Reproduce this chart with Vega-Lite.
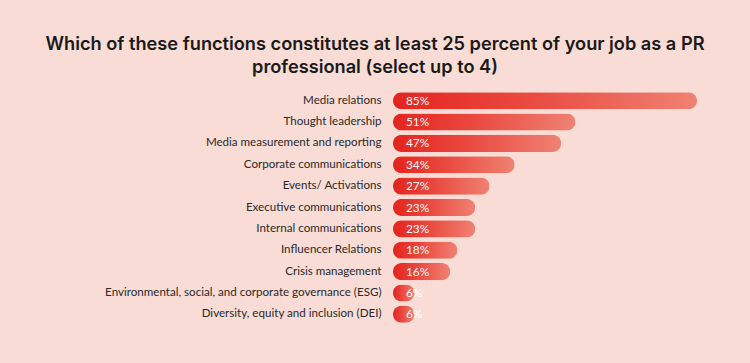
{
  "$schema": "https://vega.github.io/schema/vega-lite/v6.json",
  "autosize": "none",
  "width": 304,
  "height": 235,
  "padding": {"left": 393, "top": 90, "right": 53, "bottom": 38},
  "background": "#f9dcd5",
  "title": {
    "text": ["Which of these functions constitutes at least 25 percent of your job as a PR", "professional (select up to 4)"],
    "anchor": "middle",
    "dx": -170,
    "offset": 13,
    "font": "Inter",
    "fontSize": 18.2,
    "fontWeight": 600,
    "lineHeight": 23,
    "color": "#1a1a1a"
  },
  "data": {
    "values": [
      {"function": "Media relations", "pct": 85},
      {"function": "Thought leadership", "pct": 51},
      {"function": "Media measurement and reporting", "pct": 47},
      {"function": "Corporate communications", "pct": 34},
      {"function": "Events/ Activations", "pct": 27},
      {"function": "Executive communications", "pct": 23},
      {"function": "Internal communications", "pct": 23},
      {"function": "Influencer Relations", "pct": 18},
      {"function": "Crisis management", "pct": 16},
      {"function": "Environmental, social, and corporate governance (ESG)", "pct": 6},
      {"function": "Diversity, equity and inclusion (DEI)", "pct": 6}
    ]
  },
  "encoding": {
    "y": {
      "field": "function",
      "type": "nominal",
      "sort": null,
      "scale": {"paddingInner": 0.2, "paddingOuter": 0.1},
      "axis": {
        "title": null,
        "domain": false,
        "ticks": false,
        "labelPadding": 12,
        "labelLimit": 400,
        "labelFont": "Lato",
        "labelFontSize": 11.6,
        "labelColor": "#2a2a2a"
      }
    }
  },
  "layer": [
    {
      "mark": {
        "type": "bar",
        "cornerRadius": 8.5,
        "color": {
          "x1": 0, "y1": 0, "x2": 1, "y2": 0,
          "gradient": "linear",
          "stops": [
            {"offset": 0, "color": "#e4241e"},
            {"offset": 0.45, "color": "#ea4a40"},
            {"offset": 1, "color": "#ef8273"}
          ]
        }
      },
      "encoding": {
        "x": {
          "field": "pct",
          "type": "quantitative",
          "scale": {"domain": [0, 85], "nice": false},
          "axis": null
        }
      }
    },
    {
      "transform": [{"calculate": "datum.pct + '%'", "as": "lbl"}],
      "mark": {"type": "text", "align": "left", "dx": 13, "color": "white", "font": "Lato", "fontSize": 11.8},
      "encoding": {
        "x": {"datum": 0, "type": "quantitative"},
        "text": {"field": "lbl", "type": "nominal"}
      }
    }
  ],
  "config": {"view": {"stroke": null}}
}
